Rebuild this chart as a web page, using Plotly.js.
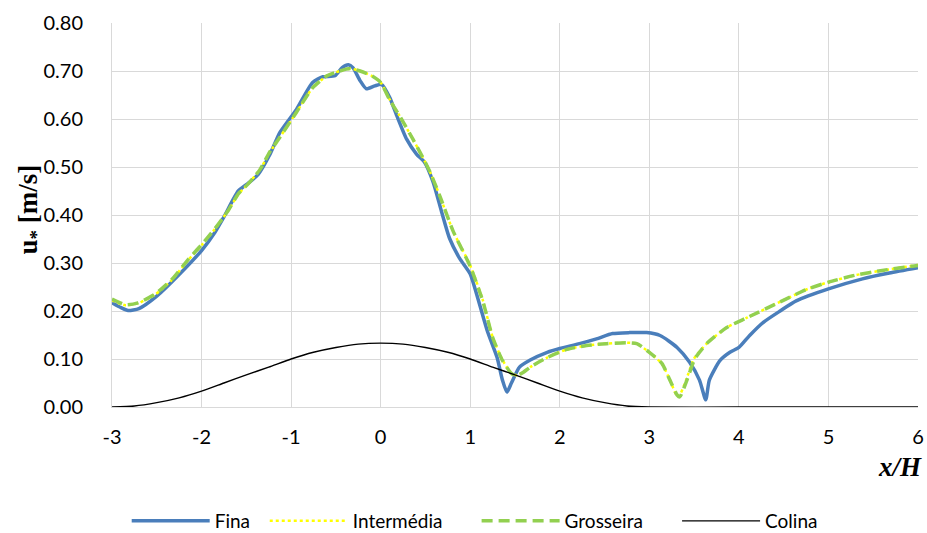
<!DOCTYPE html>
<html>
<head>
<meta charset="utf-8">
<script src="https://cdn.plot.ly/plotly-3.0.1.min.js"></script>
<style>html,body{margin:0;padding:0;background:#fff;}#chart{width:927px;height:533px;}</style>
</head>
<body>
<div id="chart"></div>
<script>
// Fina (fine mesh)
const finaX = [-3, -2.9, -2.82, -2.7, -2.5, -2.25, -2.0, -1.85, -1.75, -1.59, -1.48, -1.37, -1.24, -1.125, -0.94, -0.76, -0.645, -0.51, -0.43, -0.36, -0.31, -0.23, -0.16, -0.065, 0.01, 0.1, 0.18, 0.29, 0.40, 0.49, 0.585, 0.68, 0.77, 0.88, 1.0, 1.07, 1.19, 1.30, 1.36, 1.41, 1.46, 1.55, 1.67, 1.86, 2.0, 2.22, 2.41, 2.59, 2.78, 2.97, 3.12, 3.31, 3.45, 3.56, 3.63, 3.67, 3.79, 3.9, 4.0, 4.12, 4.27, 4.46, 4.64, 5.0, 5.38, 5.68, 6.0];
const finaY = [0.217, 0.207, 0.201, 0.205, 0.231, 0.276, 0.326, 0.364, 0.396, 0.450, 0.466, 0.484, 0.525, 0.572, 0.62, 0.676, 0.688, 0.69, 0.707, 0.713, 0.707, 0.68, 0.663, 0.669, 0.672, 0.645, 0.607, 0.558, 0.527, 0.510, 0.469, 0.407, 0.351, 0.31, 0.277, 0.236, 0.159, 0.103, 0.056, 0.031, 0.05, 0.083, 0.098, 0.114, 0.122, 0.132, 0.142, 0.153, 0.155, 0.155, 0.149, 0.124, 0.093, 0.056, 0.015, 0.056, 0.097, 0.114, 0.124, 0.149, 0.176, 0.2, 0.221, 0.246, 0.267, 0.279, 0.29];

// Intermédia (intermediate mesh)
const interX = [-3, -2.85, -2.71, -2.52, -2.33, -2.15, -2.0, -1.85, -1.7, -1.59, -1.48, -1.35, -1.24, -1.125, -0.94, -0.76, -0.6, -0.455, -0.34, -0.23, -0.1, 0.0, 0.1, 0.21, 0.36, 0.47, 0.55, 0.66, 0.81, 1.0, 1.14, 1.25, 1.36, 1.46, 1.52, 1.59, 1.67, 1.86, 2.08, 2.3, 2.52, 2.75, 2.86, 3.0, 3.14, 3.23, 3.3, 3.33, 3.41, 3.5, 3.64, 3.86, 4.09, 4.46, 4.77, 5.0, 5.31, 5.62, 6.0];
const interY = [0.222, 0.212, 0.216, 0.234, 0.265, 0.306, 0.337, 0.371, 0.41, 0.443, 0.465, 0.494, 0.53, 0.562, 0.614, 0.665, 0.69, 0.70, 0.705, 0.70, 0.69, 0.676, 0.641, 0.607, 0.558, 0.52, 0.49, 0.44, 0.366, 0.295, 0.223, 0.146, 0.098, 0.07, 0.066, 0.072, 0.083, 0.103, 0.12, 0.128, 0.132, 0.134, 0.132, 0.114, 0.09, 0.056, 0.026, 0.022, 0.056, 0.101, 0.132, 0.165, 0.186, 0.219, 0.246, 0.26, 0.275, 0.285, 0.296];

// Grosseira (coarse mesh)
const grossX = [-3, -2.85, -2.71, -2.52, -2.33, -2.15, -2.0, -1.85, -1.7, -1.59, -1.48, -1.35, -1.24, -1.125, -0.94, -0.76, -0.6, -0.455, -0.34, -0.23, -0.1, 0.0, 0.1, 0.21, 0.36, 0.47, 0.55, 0.66, 0.81, 1.0, 1.14, 1.25, 1.36, 1.46, 1.52, 1.59, 1.67, 1.86, 2.08, 2.3, 2.52, 2.75, 2.86, 3.0, 3.14, 3.23, 3.31, 3.34, 3.42, 3.51, 3.64, 3.86, 4.09, 4.46, 4.77, 5.0, 5.31, 5.62, 6.0];
const grossY = [0.225, 0.213, 0.217, 0.235, 0.266, 0.307, 0.338, 0.372, 0.41, 0.444, 0.465, 0.494, 0.531, 0.562, 0.614, 0.665, 0.69, 0.70, 0.705, 0.70, 0.69, 0.676, 0.64, 0.607, 0.558, 0.52, 0.49, 0.44, 0.366, 0.293, 0.221, 0.145, 0.097, 0.07, 0.065, 0.072, 0.083, 0.103, 0.12, 0.128, 0.132, 0.134, 0.132, 0.114, 0.091, 0.056, 0.025, 0.021, 0.056, 0.101, 0.132, 0.165, 0.186, 0.219, 0.246, 0.26, 0.275, 0.285, 0.295];

// Colina (hill profile)
const colinaX = [-3, -2.75, -2.5, -2.25, -2, -1.75, -1.5, -1.25, -1, -0.75, -0.5, -0.25, 0, 0.25, 0.5, 0.75, 1, 1.25, 1.5, 1.75, 2, 2.25, 2.5, 2.75, 3, 4, 5, 6];
const colinaY = [0, 0.002, 0.009, 0.019, 0.033, 0.050, 0.067, 0.083, 0.100, 0.114, 0.124, 0.131, 0.133, 0.131, 0.124, 0.114, 0.100, 0.083, 0.067, 0.050, 0.033, 0.019, 0.009, 0.002, 0, 0, 0, 0];

const xTicks = [-3, -2, -1, 0, 1, 2, 3, 4, 5, 6];
const yTicks = [0, 0.1, 0.2, 0.3, 0.4, 0.5, 0.6, 0.7, 0.8];
const yTickText = ['0.00', '0.10', '0.20', '0.30', '0.40', '0.50', '0.60', '0.70', '0.80'];

const nb = '\u00a0';

const traces = [
  {x: finaX, y: finaY, name: 'Fina' + nb.repeat(2), mode: 'lines', line: {color: '#4A7EBB', width: 3.5, shape: 'spline', smoothing: 0.6}},
  {x: interX, y: interY, name: 'Intermédia' + nb.repeat(6), mode: 'lines', line: {color: '#FFFF00', width: 2.5, dash: 'dot', shape: 'spline', smoothing: 0.6}},
  {x: grossX, y: grossY, name: 'Grosseira' + nb.repeat(6), mode: 'lines', line: {color: '#92D050', width: 3.5, dash: '11px,6px', shape: 'spline', smoothing: 0.6}},
  {x: colinaX, y: colinaY, name: 'Colina', mode: 'lines', line: {color: '#000000', width: 1.4, shape: 'spline', smoothing: 0.6}}
];

const tickFont = {family: 'Lato, sans-serif', size: 20, color: '#000'};

const layout = {
  width: 927, height: 533,
  margin: {l: 112, r: 9, t: 23, b: 126},
  paper_bgcolor: '#fff', plot_bgcolor: '#fff',
  showlegend: true,
  legend: {orientation: 'h', x: 0.45, xanchor: 'center', yref: 'container', y: 0.0225, yanchor: 'middle',
           font: {family: 'Lato, sans-serif', size: 19, color: '#000'}, itemwidth: 78, traceorder: 'normal'},
  xaxis: {range: [-3, 6], tickvals: xTicks, ticktext: xTicks.map(String), tickfont: tickFont,
          showgrid: true, gridcolor: '#D9D9D9', gridwidth: 1, zeroline: false,
          showline: true, linecolor: '#D9D9D9', linewidth: 1, ticks: '', ticklabelstandoff: 12},
  yaxis: {range: [0, 0.8], tickvals: yTicks, ticktext: yTickText, tickfont: tickFont,
          showgrid: true, gridcolor: '#D9D9D9', gridwidth: 1, zeroline: false,
          showline: true, linecolor: '#D9D9D9', linewidth: 1, ticks: '', ticklabelstandoff: 24},
  annotations: [
    {text: '<b>u<sub>*</sub> [m/s]</b>', xref: 'paper', yref: 'paper', x: -0.102, y: 0.514,
     xanchor: 'center', yanchor: 'middle', textangle: -90, showarrow: false,
     font: {family: 'Liberation Serif, serif', size: 27, color: '#000'}},
    {text: '<b><i>x/H</i></b>', xref: 'paper', yref: 'paper', x: 1.008, y: -0.155,
     xanchor: 'right', yanchor: 'middle', showarrow: false,
     font: {family: 'Liberation Serif, serif', size: 27, color: '#000'}}
  ]
};

Plotly.newPlot('chart', traces, layout, {displayModeBar: false, staticPlot: true});
</script>
</body>
</html>
